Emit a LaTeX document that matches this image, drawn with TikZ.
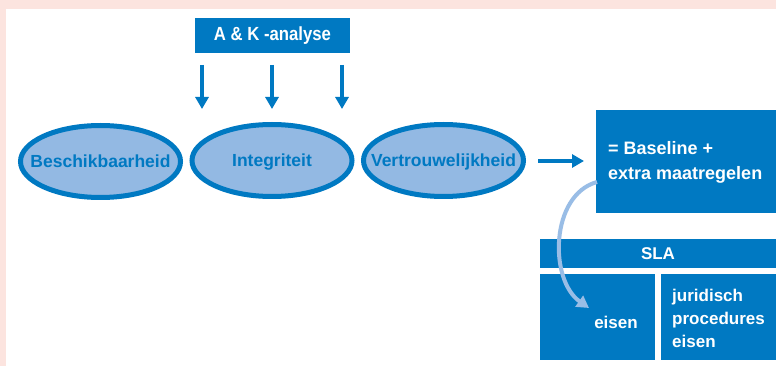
\documentclass[tikz,border=0pt]{standalone}
\usepackage{fontspec}
\setmainfont{Liberation Sans}
\usetikzlibrary{shapes.geometric,arrows.meta}
\definecolor{cblue}{HTML}{0079C2}
\definecolor{cfill}{HTML}{93B9E3}
\definecolor{cpink}{HTML}{FCE4DF}
\definecolor{carc}{HTML}{99BDE6}
\tikzset{
  oval/.style={ellipse, draw=cblue, line width=5pt, fill=cfill, minimum width=160pt, minimum height=72pt, inner sep=0pt},
  ovaltext/.style={text=cblue, inner sep=0pt, anchor=base, font=\fontsize{17.5}{20}\selectfont\bfseries},
  bluebox/.style={fill=cblue, draw=none, inner sep=0pt, text=white, font=\fontsize{17}{23}\selectfont\bfseries},
  label/.style={text=white, inner sep=0pt, font=\fontsize{17}{23}\selectfont\bfseries, align=left},
  downarrow/.style={draw=cblue, line width=4.5pt, -{Triangle[width=13pt,length=12pt]}},
  curvearrow/.style={draw=carc, line width=4pt, -{Triangle[width=13pt,length=12pt]}}
}
\begin{document}
\begin{tikzpicture}[x=1pt,y=-1pt]
\useasboundingbox (0,0) rectangle (776,366);
\fill[cpink] (0,0) rectangle (776,366);
\fill[white] (6,9) rectangle (776,366);
% A&K box
\node[bluebox, minimum width=155pt, minimum height=35pt, font=\fontsize{19}{22}\selectfont\bfseries] (ak) at (272.5,35.5) {\scalebox{0.88}[1]{A \& K -analyse}};
\coordinate (d1s) at (202,65); \coordinate (d1e) at (202,109);
\coordinate (d2s) at (272,65); \coordinate (d2e) at (272,109);
\coordinate (d3s) at (342,65); \coordinate (d3e) at (342,109);
\draw[downarrow] (d1s) -- (d1e);
\draw[downarrow] (d2s) -- (d2e);
\draw[downarrow] (d3s) -- (d3e);
% ellipses
\node[oval] (be) at (100.5,161.5) {};
\node[ovaltext] (bet) at ([yshift=-6.5pt]be.center) {Beschikbaarheid};
\node[oval] (in) at (272,160.5) {};
\node[ovaltext] (int) at ([yshift=-6.5pt]in.center) {Integriteit};
\node[oval] (ve) at (443.5,160.5) {};
\node[ovaltext] (vet) at ([yshift=-6.5pt]ve.center) {Vertrouwelijkheid};
% arrow right
\coordinate (ra) at (538,161);
\coordinate (rb) at (584,161);
\draw[downarrow] (ra) -- (rb);
% baseline box
\node[bluebox, minimum width=180pt, minimum height=103pt] (base) at (686,161.5) {};
\node[label, anchor=north west, font=\fontsize{18}{25}\selectfont\bfseries] (basetxt) at (608,141) {= Baseline +\\extra maatregelen};
% SLA
\node[bluebox, minimum width=236pt, minimum height=29pt] (sla) at (658,253.5) {SLA};
\node[bluebox, minimum width=115pt, minimum height=86pt] (left) at (597.5,317) {};
\node[bluebox, minimum width=115pt, minimum height=86pt] (right) at (718.5,317) {};
\node[label] (eisen) at (616,322) {eisen};
\node[label, anchor=north west] (rtxt) at (672,289) {juridisch\\procedures\\eisen};
% curved arrow
\coordinate (cs) at (597,182);
\coordinate (ce) at (589,308);
\draw[curvearrow] (cs) .. controls (550,195) and (549,280) .. (ce);
\end{tikzpicture}
\end{document}
